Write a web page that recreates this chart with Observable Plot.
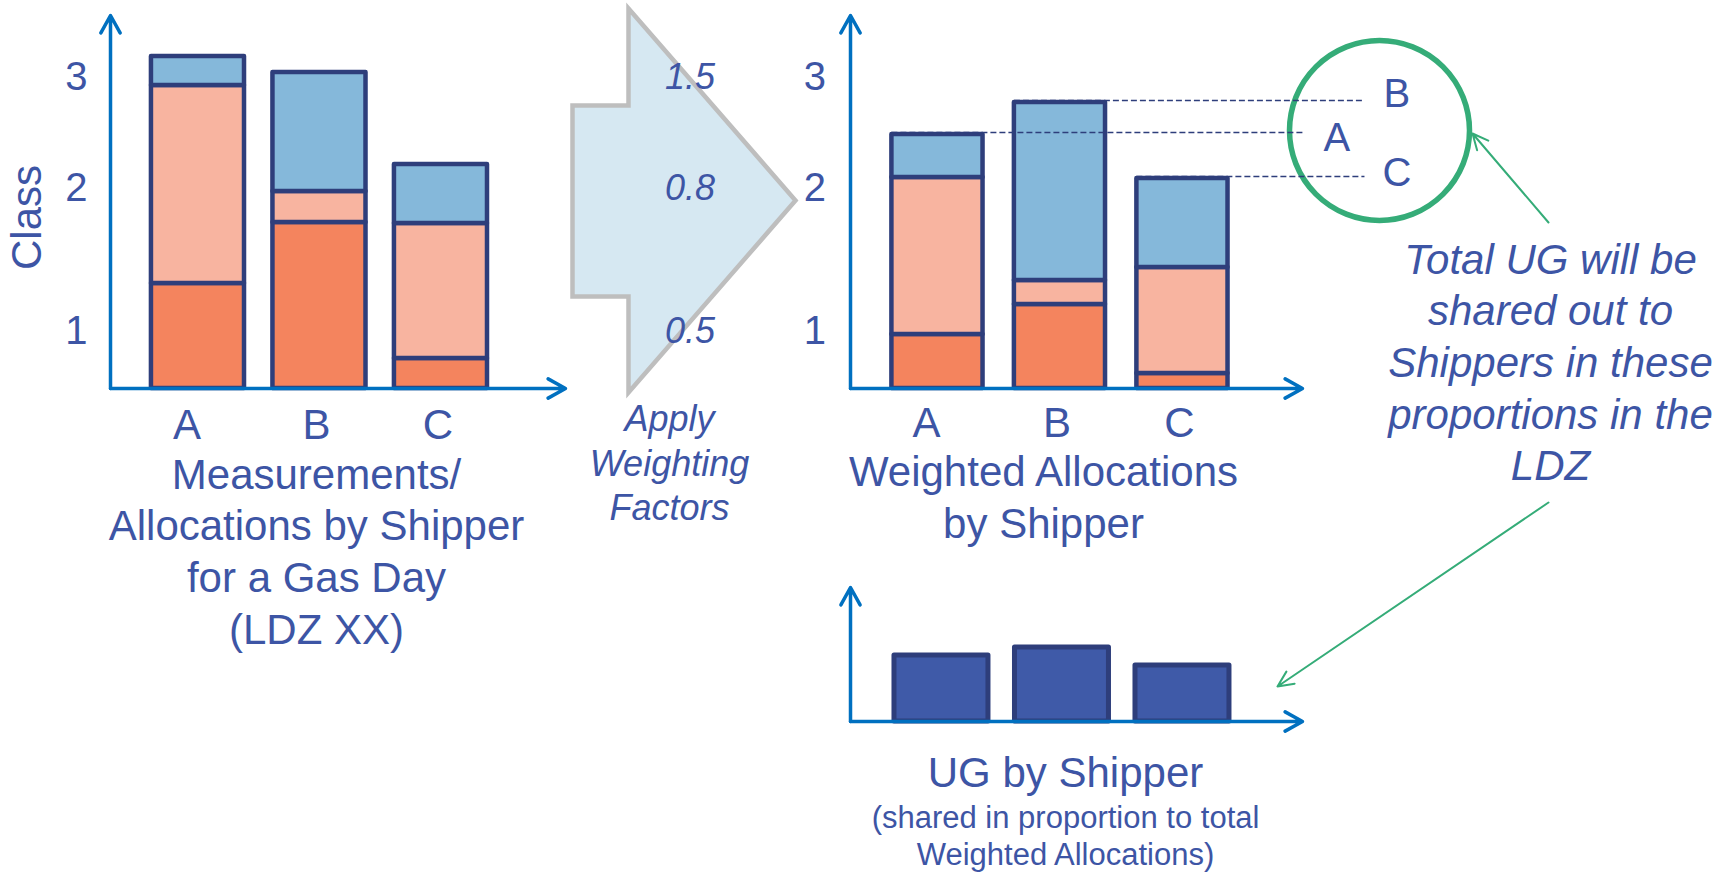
<!DOCTYPE html>
<html>
<head>
<meta charset="utf-8">
<script src="https://cdn.jsdelivr.net/npm/d3@7"></script>
<script src="https://cdn.jsdelivr.net/npm/@observablehq/plot@0.6"></script>
<style>
  html, body { margin: 0; padding: 0; background: #ffffff; }
  #page { position: relative; width: 1730px; height: 873px; overflow: hidden; background: #ffffff; }
</style>
</head>
<body>
<div id="page"></div>
<script>
// ---- Data -------------------------------------------------------------
const shippers = ["A", "B", "C"];
const classes = ["Class 1", "Class 2", "Class 3"];
const classTickLabels = ["1", "2", "3"];
const classTickPositions = [0.57, 2.0, 3.11];
const weightingFactors = [0.5, 0.8, 1.5];          // class 1, 2, 3

// Measured allocations for the gas day, by shipper (A, B, C)
const allocClass1 = [1.05, 1.66, 0.30];
const allocClass2 = [1.98, 0.31, 1.35];
const allocClass3 = [0.29, 1.19, 0.59];

// Weighted allocations, by shipper (A, B, C)
const weightedClass1 = [0.54, 0.84, 0.15];
const weightedClass2 = [1.57, 0.24, 1.06];
const weightedClass3 = [0.43, 1.78, 0.89];

// Unidentified gas shared out, by shipper (A, B, C)
const ugByShipper = [0.66, 0.74, 0.56];

// ---- Styling ----------------------------------------------------------
const FONT = "'Liberation Sans', Arial, Helvetica, sans-serif";
const TEXT = "#3D55A5";
const AXIS = "#0070C0";
const NAVY = "#2E3E7B";
const CLASS_COLORS = ["#F4845E", "#F8B4A0", "#85B8DA"];
const UG_FILL = "#3F5AA8";
const GREEN = "#35AC78";
const LABEL_DX = [-11, -3, -3];   // nudges for the shipper letters under the bars

const page = document.getElementById("page");

function place(svg, left, top) {
  Object.assign(svg.style, {
    position: "absolute", left: left + "px", top: top + "px",
    overflow: "visible", background: "transparent", maxWidth: "none", fontFamily: FONT
  });
  page.appendChild(svg);
}

function toRows(c1, c2, c3) {
  const rows = [];
  shippers.forEach((s, i) => {
    [c1, c2, c3].forEach((arr, j) => rows.push({shipper: s, i, cls: classes[j], value: arr[i]}));
  });
  return rows;
}

function axisArrows(xDomain, yDomain) {
  return Plot.arrow([
    {x1: xDomain[0], y1: 0, x2: xDomain[0], y2: yDomain[1]},
    {x1: xDomain[0], y1: 0, x2: xDomain[1], y2: 0}
  ], {x1: "x1", y1: "y1", x2: "x2", y2: "y2", stroke: AXIS, strokeWidth: 3.5, headLength: 8.5, headAngle: 58});
}

function stackedChart({rows, halfWidth, xDomain, yDomain, frame, labelY, extra = []}) {
  return Plot.plot({
    ...frame,
    x: {domain: xDomain, axis: null},
    y: {domain: yDomain, axis: null},
    color: {domain: classes, range: CLASS_COLORS},
    marks: [
      Plot.rectY(rows, {
        x1: d => d.i - halfWidth, x2: d => d.i + halfWidth, y: "value",
        fill: "cls", stroke: NAVY, strokeWidth: 4.5, strokeLinejoin: "round"
      }),
      axisArrows(xDomain, yDomain),
      Plot.text(classTickLabels, {
        x: -1.0, y: (d, k) => classTickPositions[k], text: d => d,
        fontSize: 40, fill: TEXT
      }),
      ...shippers.map((s, k) => Plot.text([s], {
        x: k, y: labelY, text: d => d, dx: LABEL_DX[k], fontSize: 42, fill: TEXT
      })),
      ...extra
    ]
  });
}

// ---- Background annotations (flow arrow, key circle, pointers, captions) ----
const weightArrow = {stemLeft: 572, neckX: 628, pointX: 795, top: 8, bottom: 392, stemTop: 105, stemBottom: 296};
const wa = weightArrow;
const weightArrowOutline = [
  [wa.neckX, wa.top], [wa.pointX, (wa.top + wa.bottom) / 2], [wa.neckX, wa.bottom],
  [wa.neckX, wa.stemBottom], [wa.stemLeft, wa.stemBottom], [wa.stemLeft, wa.stemTop], [wa.neckX, wa.stemTop]
];
const keyCircle = {x: 1379, y: 130, r: 90};
const pointers = [
  {x1: 1548, y1: 222, x2: 1472, y2: 133},
  {x1: 1548, y1: 502, x2: 1277, y2: 686}
];
const captions = [
  {text: "Measurements/\nAllocations by Shipper\nfor a Gas Day\n(LDZ XX)", x: 316, y: 549, size: 42, lh: 1.23, italic: false},
  {text: "Apply\nWeighting\nFactors", x: 669, y: 461, size: 36, lh: 1.24, italic: true},
  {text: "Weighted Allocations\nby Shipper", x: 1043, y: 495, size: 42, lh: 1.22, italic: false},
  {text: "UG by Shipper", x: 1065, y: 770, size: 42, lh: 1.2, italic: false},
  {text: "(shared in proportion to total\nWeighted Allocations)", x: 1065, y: 834, size: 31, lh: 1.2, italic: false},
  {text: "Total UG will be\nshared out to\nShippers in these\nproportions in the\nLDZ", x: 1550, y: 360, size: 42, lh: 1.23, italic: true}
];

const overlay = Plot.plot({
  width: 1730, height: 873, margin: 0,
  x: {type: "identity", axis: null},
  y: {type: "identity", axis: null},
  marks: [
    Plot.line(weightArrowOutline, {
      x: d => d[0], y: d => d[1], curve: "linear-closed",
      fill: "#D6E8F2", stroke: "#BEBEBE", strokeWidth: 4.5,
      strokeLinejoin: "miter", strokeMiterlimit: 10
    }),
    Plot.dot([keyCircle], {x: "x", y: "y", r: keyCircle.r, fill: "none", stroke: GREEN, strokeWidth: 5.5}),
    Plot.arrow(pointers, {x1: "x1", y1: "y1", x2: "x2", y2: "y2", stroke: GREEN, strokeWidth: 2, headLength: 13, headAngle: 50}),
    ...captions.map(c => Plot.text([c], {
      x: "x", y: "y", text: "text", fontSize: c.size, lineHeight: c.lh,
      fontStyle: c.italic ? "italic" : "normal", fill: TEXT
    }))
  ]
});
place(overlay, 0, 0);

// ---- Measurements / allocations by shipper ----------------------------
const leftX = [-0.72, 3.025];
const leftY = [0, 3.73];
const left = stackedChart({
  rows: toRows(allocClass1, allocClass2, allocClass3),
  halfWidth: 0.383,
  xDomain: leftX, yDomain: leftY,
  frame: {width: 620, height: 460, marginLeft: 110, marginRight: 55, marginTop: 15, marginBottom: 72},
  labelY: -0.37,
  extra: [
    Plot.text(["Class"], {x: -1.40, y: 1.71, text: d => d, rotate: -90, fontSize: 42, fill: TEXT}),
    // weighting factors written on the flow arrow, level with each class
    Plot.text(weightingFactors, {
      x: 4.05, y: (d, k) => classTickPositions[k], text: d => String(d),
      fontSize: 36, fontStyle: "italic", fill: TEXT
    })
  ]
});
place(left, 0, 0);

// ---- Weighted allocations by shipper ----------------------------------
const weightedTotals = shippers.map((s, i) => weightedClass1[i] + weightedClass2[i] + weightedClass3[i]);
const rightX = [-0.71, 2.98];
const rightY = [0, 3.73];
const rightHalf = 0.372;
const guideEnd = [3.0, 3.49, 3.49];     // where each total's dashed guide stops
const keyX = [3.26, 3.75, 3.75];        // letter column inside the key circle
const keyDy = [4, -8, -5];
const right = stackedChart({
  rows: toRows(weightedClass1, weightedClass2, weightedClass3),
  halfWidth: rightHalf,
  xDomain: rightX, yDomain: rightY,
  frame: {width: 1030, height: 460, marginLeft: 150, marginRight: 428, marginTop: 15, marginBottom: 72},
  labelY: -0.35,
  extra: [
    Plot.ruleY(weightedTotals, {
      y: d => d, x1: (d, k) => k - rightHalf, x2: (d, k) => guideEnd[k],
      stroke: NAVY, strokeWidth: 1.5, strokeDasharray: "6,3", dy: -2
    }),
    ...shippers.map((s, k) => Plot.text([s], {
      x: keyX[k], y: weightedTotals[k], text: d => d, dy: keyDy[k], fontSize: 40, fill: TEXT
    }))
  ]
});
place(right, 700, 0);

// ---- UG by shipper ----------------------------------------------------
const ugX = [-0.755, 2.996];
const ugY = [0, 1.34];
const ugHalf = 0.39;
const ug = Plot.plot({
  width: 650, height: 200, marginLeft: 150, marginRight: 48, marginTop: 27, marginBottom: 39,
  x: {domain: ugX, axis: null},
  y: {domain: ugY, axis: null},
  marks: [
    Plot.rectY(ugByShipper.map((v, i) => ({shipper: shippers[i], i, value: v})), {
      x1: d => d.i - ugHalf, x2: d => d.i + ugHalf, y: "value",
      fill: UG_FILL, stroke: NAVY, strokeWidth: 5, strokeLinejoin: "round"
    }),
    axisArrows(ugX, ugY)
  ]
});
place(ug, 700, 560);
</script>
</body>
</html>
